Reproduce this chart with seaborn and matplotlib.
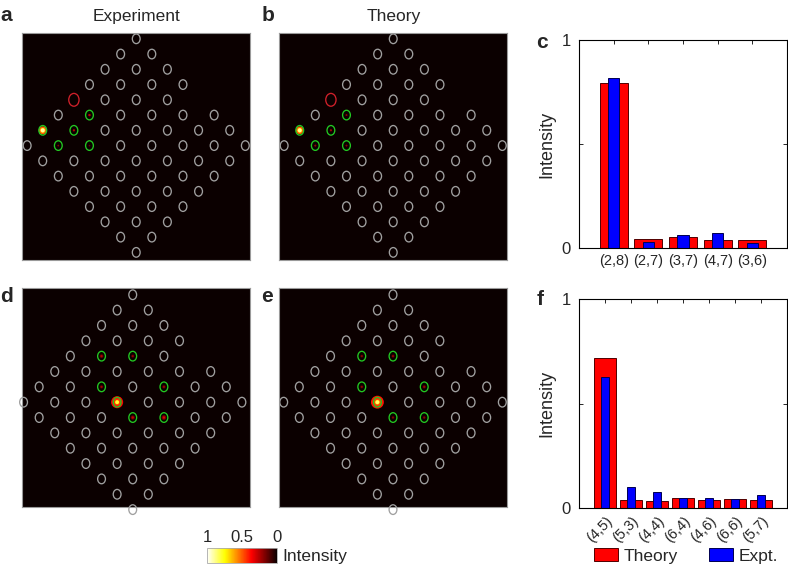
import matplotlib
matplotlib.use("Agg")
import matplotlib.pyplot as plt
import matplotlib.colors as mcolors
from matplotlib.patches import Ellipse, Patch
import seaborn as sns
import pandas as pd
import numpy as np

sns.set_style("ticks")
plt.rcParams["font.family"] = ["Liberation Sans", "DejaVu Sans"]

# waveguide lattice: sites (p, q) with p, q = 1..8, one site absent
lattice_n = 8
missing_sites = [(8, 4)]

# single-site excitation at (2,8)
labels_c = ["(2,8)", "(2,7)", "(3,7)", "(4,7)", "(3,6)"]
theory_c = [0.792, 0.043, 0.053, 0.040, 0.037]
expt_c = [0.818, 0.030, 0.061, 0.072, 0.022]
red_site_c = "(4,8)"

# single-site excitation at (4,5)
labels_f = ["(4,5)", "(5,3)", "(4,4)", "(6,4)", "(4,6)", "(6,6)", "(5,7)"]
theory_f = [0.718, 0.037, 0.034, 0.048, 0.040, 0.043, 0.038]
expt_f = [0.629, 0.099, 0.077, 0.050, 0.050, 0.043, 0.064]

RED = "#ff0000"
BLUE = "#0000ff"
GRAY = "#a0a0a0"
GREEN = "#22c822"
CIRC_RED = "#d0202a"

spot_norm = mcolors.PowerNorm(gamma=0.5, vmin=0, vmax=1)


def parse(lab):
    p, q = lab.strip("()").split(",")
    return int(p), int(q)


def site_pos(p, q):
    # lattice (p, q) -> (column, row) of the rotated square grid
    return p - q + 7, 16 - p - q


def draw_lattice(ax, labels, values, red_label=None, halo=False, xlim=(-0.33, 14.3), ylim=(14.5, -0.38)):
    ax.set_facecolor(plt.cm.hot(0.0))
    pts = [site_pos(*parse(l)) for l in labels]
    xs = [p[0] for p in pts]
    ys = [p[1] for p in pts]
    vals = np.array(values)
    # glow layers: (marker area, colour level); outer layers scale with intensity
    layers = [(40, 0.3), (16, 0.55)]
    if halo:
        layers = [(120, 0.22)] + layers
    for s, k in layers:
        ax.scatter(xs, ys, s=s * vals, c=vals * k, cmap="hot", norm=spot_norm,
                   linewidths=0, zorder=1)
    ax.scatter(xs, ys, s=9 * np.sqrt(vals), c=vals, cmap="hot", norm=spot_norm,
               linewidths=0, zorder=1)
    for p in range(1, lattice_n + 1):
        for q in range(1, lattice_n + 1):
            if (p, q) in missing_sites:
                continue
            lab = f"({p},{q})"
            x, y = site_pos(p, q)
            if lab == red_label:
                col, w, h = CIRC_RED, 0.66, 0.84
            elif lab in labels:
                col, w, h = GREEN, 0.5, 0.63
            else:
                col, w, h = GRAY, 0.5, 0.63
            ax.add_patch(Ellipse((x, y), w, h, fill=False, edgecolor=col, lw=0.95,
                                 zorder=2, clip_on=False))
    ax.set_xlim(*xlim)
    ax.set_ylim(*ylim)
    ax.set_xticks([])
    ax.set_yticks([])
    for sp in ax.spines.values():
        sp.set_visible(True)
        sp.set_color("#9a9a9a")
        sp.set_linewidth(0.8)


def draw_bars(ax, labels, theory, expt, w_t, w_e, rotate=False):
    df = pd.DataFrame({"site": labels, "theory": theory, "expt": expt})
    sns.barplot(data=df, x="site", y="theory", color=RED, width=w_t, saturation=1,
                edgecolor="#500000", linewidth=0.7, ax=ax)
    sns.barplot(data=df, x="site", y="expt", color=BLUE, width=w_e, saturation=1,
                edgecolor="#000050", linewidth=0.7, ax=ax)
    ax.set_xlim(-1, len(labels))
    ax.set_ylim(0, 1)
    ax.set_yticks([0, 0.5, 1], ["0", "", "1"])
    ax.tick_params(direction="in", top=True, right=True, length=3, width=0.7)
    ax.tick_params(axis="y", labelsize=12, pad=6)
    ax.tick_params(axis="x", labelsize=10.5, pad=4)
    if rotate:
        plt.setp(ax.get_xticklabels(), rotation=45, ha="right", rotation_mode="anchor")
    ax.set_xlabel("")
    ax.set_ylabel("Intensity", fontsize=13, labelpad=4)
    for sp in ax.spines.values():
        sp.set_visible(True)
        sp.set_color("black")
        sp.set_linewidth(0.8)


fig = plt.figure(figsize=(7.88, 5.66), dpi=100)
W, H = 788, 566


def box(x0, y0, x1, y1):
    return [x0 / W, 1 - y1 / H, (x1 - x0) / W, (y1 - y0) / H]


ax_a = fig.add_axes(box(22, 33, 250, 260))
ax_b = fig.add_axes(box(279, 33, 507, 260))
ax_c = fig.add_axes(box(579, 40, 787, 248))
ax_d = fig.add_axes(box(22, 288, 250, 507))
ax_e = fig.add_axes(box(279, 288, 507, 507))
ax_f = fig.add_axes(box(579, 299, 787, 508))

draw_lattice(ax_a, labels_c, expt_c, red_label=red_site_c)
draw_lattice(ax_b, labels_c, theory_c, red_label=red_site_c)
draw_lattice(ax_d, labels_f, expt_f, halo=True, xlim=(-0.1, 14.52), ylim=(13.83, -0.44))
draw_lattice(ax_e, labels_f, theory_f, halo=True, xlim=(-0.3, 14.3), ylim=(13.83, -0.44))

draw_bars(ax_c, labels_c, theory_c, expt_c, 0.81, 0.32)
draw_bars(ax_f, labels_f, theory_f, expt_f, 0.85, 0.30, rotate=True)

fig.text(136 / W, 1 - 20.7 / H, "Experiment", ha="center", va="baseline", fontsize=12.5)
fig.text(394 / W, 1 - 20.7 / H, "Theory", ha="center", va="baseline", fontsize=12.5)

for lt, x, y in [("a", 0, 20.7), ("b", 262, 20.7), ("c", 536, 48),
                 ("d", 0, 301.7), ("e", 261, 301.7), ("f", 537, 305)]:
    fig.text(x / W, 1 - y / H, lt, ha="left", va="baseline", fontsize=15, fontweight="bold")

# colour bar (1 on the left, 0 on the right)
cax = fig.add_axes(box(207, 548, 277, 563))
sm = plt.cm.ScalarMappable(norm=mcolors.Normalize(0, 1), cmap="hot")
cb = fig.colorbar(sm, cax=cax, orientation="horizontal")
cax.invert_xaxis()
cb.set_ticks([1, 0.5, 0], labels=["1", "0.5", "0"])
cax.xaxis.set_ticks_position("top")
cax.tick_params(length=0, labelsize=12, pad=2)
cb.outline.set_edgecolor("#aaaaaa")
cb.outline.set_linewidth(0.6)
fig.text(282 / W, 1 - 556 / H, "Intensity", ha="left", va="center", fontsize=12.5)

handles = [Patch(facecolor=RED, edgecolor="#500000", lw=0.7, label="Theory"),
           Patch(facecolor=BLUE, edgecolor="#000050", lw=0.7, label="Expt.")]
fig.legend(handles=handles, loc="center", bbox_to_anchor=(686 / W, 1 - 556 / H), ncol=2,
           frameon=False, fontsize=12.5, handlelength=1.4, handleheight=0.8,
           handletextpad=0.3, columnspacing=1.8, borderpad=0)

fig.savefig("out.png", dpi=100)
